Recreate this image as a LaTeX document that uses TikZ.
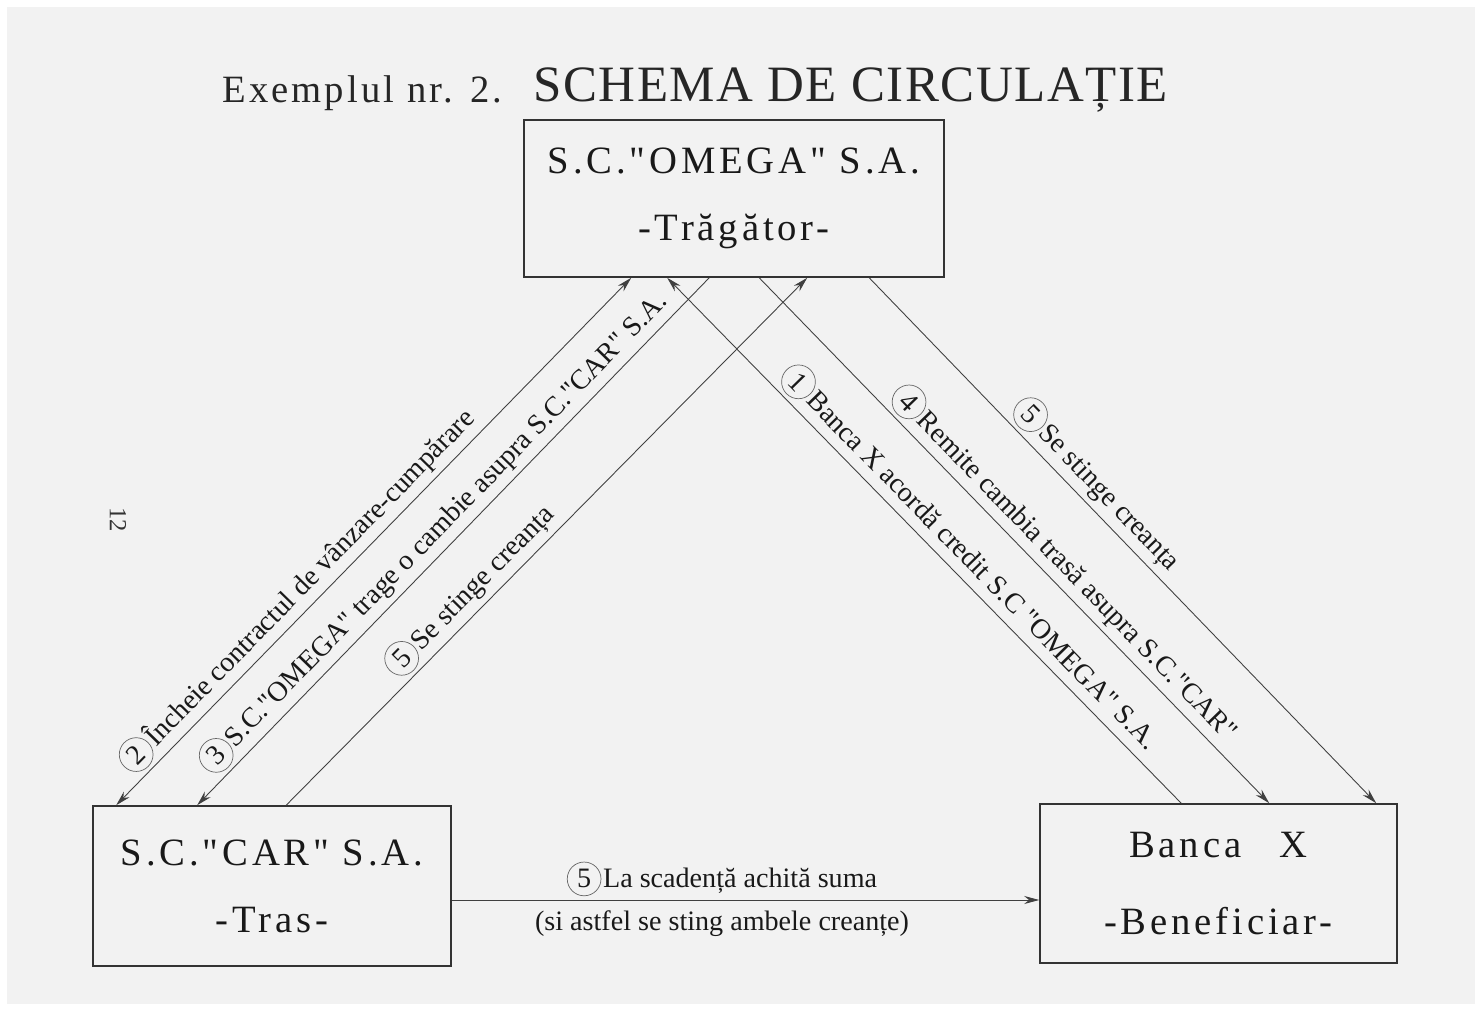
\documentclass[tikz,border=0pt]{standalone}
\usepackage{fontspec}
\setmainfont{Liberation Serif}[Ligatures=TeXOff]
\newfontfamily\spaced[LetterSpace=10,Ligatures=TeXOff]{Liberation Serif}
\newfontfamily\titlespaced[LetterSpace=8]{Liberation Serif}
\newfontfamily\titlebig[LetterSpace=3]{Liberation Serif}
\usetikzlibrary{arrows.meta}

% circled step number
\newcommand{\nr}[1]{\tikz[baseline=(n.base)]\node[draw=black!60,thin,circle,inner sep=0pt,minimum size=1.2em](n){#1};\kern1pt}

\begin{document}
\begin{tikzpicture}[>={Stealth[length=3mm,width=1.6mm]},
    box/.style={draw=black!80, line width=0.9pt, align=center, text=black!90,
      font=\fontsize{22}{38}\selectfont\spaced},
    flow/.style={draw=black!75, line width=0.5pt},
    lbl/.style={sloped, above, inner sep=2pt, text=black!90, font=\fontsize{16}{19}\selectfont}]

    % Paper
    \fill[white] (0,0) rectangle (29.66,20.22);
    \fill[black!5] (0.15,0.15) rectangle (29.5,20.07);
    \useasboundingbox (0,0) rectangle (29.66,20.22);

    % Title and page number
    \node[anchor=base west, inner sep=0, text=black!85, font=\fontsize{22}{26}\selectfont\titlespaced] (ex) at (4.44,18.16) {Exemplul nr. 2.};
    \node[anchor=base west, inner sep=0, text=black!85, font=\fontsize{29}{34}\selectfont\titlebig] (title) at (10.66,18.18) {SCHEMA DE CIRCULAȚIE};
    \node[rotate=-90, text=black!80, font=\fontsize{14}{16}\selectfont] (page) at (2.36,9.82) {12};

    % The three parties
    \node[box, minimum width=8.4cm, minimum height=3.14cm] (omega) at (14.68,16.25) {S.C."OMEGA" S.A.\\-Trăgător-};
    \node[box, minimum width=7.16cm, minimum height=3.2cm] (car) at (5.44,2.5) {S.C."CAR" S.A.\\-Tras-};
    \node[box, minimum width=7.14cm, minimum height=3.18cm] (banca) at (24.37,2.55) {Banca\quad X\\[6pt]-Beneficiar-};

    % Ends of the connectors on the boxes
    \coordinate (c1) at ([xshift=0.48cm]car.north west);
    \coordinate (c2) at ([xshift=2.1cm]car.north west);
    \coordinate (c3) at ([xshift=3.88cm]car.north west);
    \coordinate (o1) at ([xshift=2.16cm]omega.south west);
    \coordinate (o2) at ([xshift=2.88cm]omega.south west);
    \coordinate (o3) at ([xshift=3.72cm]omega.south west);
    \coordinate (o4) at ([xshift=4.72cm]omega.south west);
    \coordinate (o5) at ([xshift=5.68cm]omega.south west);
    \coordinate (o6) at ([xshift=6.92cm]omega.south west);
    \coordinate (b1) at ([xshift=2.84cm]banca.north west);
    \coordinate (b2) at ([xshift=4.6cm]banca.north west);
    \coordinate (b3) at ([xshift=6.74cm]banca.north west);
    \coordinate (h1) at ([yshift=-0.28cm]car.east);
    \coordinate (h2) at (h1 -| banca.west);

    % Left side: Tras <-> Tragator
    \draw[flow, <->] (c1) -- node[lbl, pos=0.38] {\nr{2}Încheie contractul de vânzare-cumpărare} (o1);
    \draw[flow, <-] (c2) -- node[lbl, pos=0.49] {\nr{3}S.C."OMEGA" trage o cambie asupra S.C."CAR" S.A.} (o3);
    \draw[flow, ->] (c3) -- node[lbl, pos=0.38] {\nr{5} Se stinge creanța} (o5);

    % Right side: Tragator <-> Beneficiar
    \draw[flow, <-] (o2) -- node[lbl, pos=0.56] {\nr{1}Banca X acordă credit S.C "OMEGA" S.A.} (b1);
    \draw[flow, ->] (o4) -- node[lbl, pos=0.57] {\nr{4}Remite cambia trasă asupra S.C."CAR"} (b2);
    \draw[flow, ->] (o6) -- node[lbl, pos=0.42] {\nr{5}Se stinge creanța} (b3);

    % Payment at maturity
    \draw[flow, ->] (h1) -- node[lbl, pos=0.46] {\nr{5}La scadență achită suma}
      node[lbl, below, pos=0.46, inner sep=6pt] {(si astfel se sting ambele creanțe)} (h2);
\end{tikzpicture}
\end{document}
